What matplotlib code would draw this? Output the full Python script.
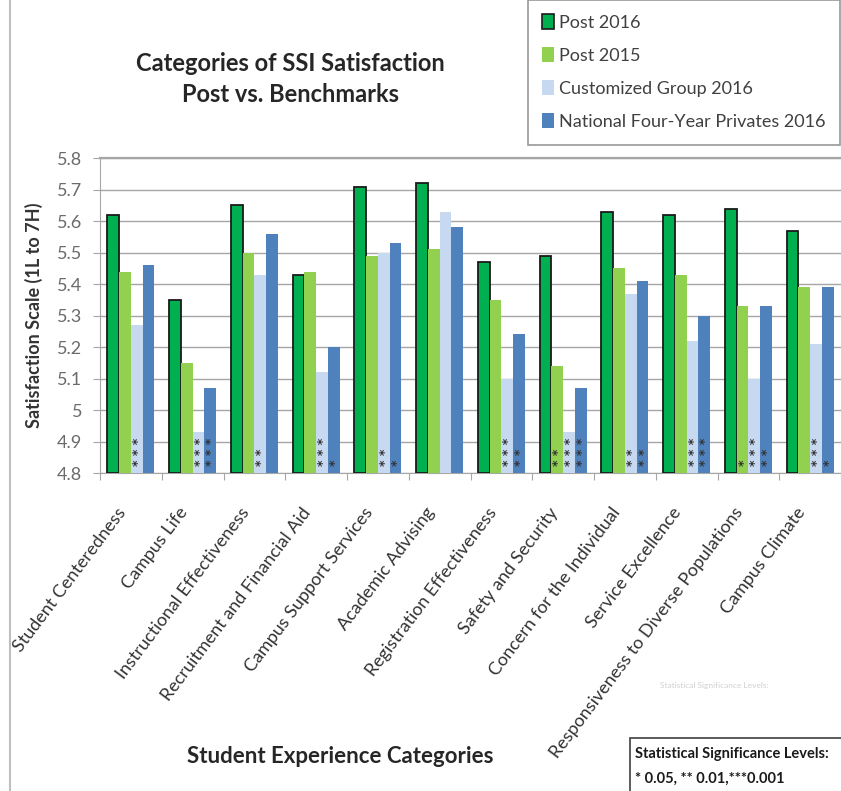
import matplotlib
matplotlib.use("Agg")
import matplotlib.pyplot as plt
import numpy as np
from matplotlib.patches import Rectangle, Patch
from matplotlib.lines import Line2D

categories = ["Student Centeredness", "Campus Life", "Instructional Effectiveness",
              "Recruitment and Financial Aid", "Campus Support Services", "Academic Advising",
              "Registration Effectiveness", "Safety and Security", "Concern for the Individual",
              "Service Excellence", "Responsiveness to Diverse Populations", "Campus Climate"]
post2016 = [5.62, 5.35, 5.65, 5.43, 5.71, 5.72, 5.47, 5.49, 5.63, 5.62, 5.64, 5.57]
post2015 = [5.44, 5.15, 5.50, 5.44, 5.49, 5.51, 5.35, 5.14, 5.45, 5.43, 5.33, 5.39]
custom2016 = [5.27, 4.93, 5.43, 5.12, 5.50, 5.63, 5.10, 4.93, 5.37, 5.22, 5.10, 5.21]
national2016 = [5.46, 5.07, 5.56, 5.20, 5.53, 5.58, 5.24, 5.07, 5.41, 5.30, 5.33, 5.39]
post2015_stars = [0, 0, 0, 0, 0, 0, 0, 2, 0, 0, 1, 0]
custom_stars = [3, 3, 2, 3, 2, 0, 3, 3, 2, 3, 3, 3]
national_stars = [0, 3, 0, 1, 1, 0, 2, 3, 2, 3, 2, 1]
series_names = ["Post 2016", "Post 2015", "Customized Group 2016", "National Four-Year Privates 2016"]
yticks = [4.8, 4.9, 5.0, 5.1, 5.2, 5.3, 5.4, 5.5, 5.6, 5.7, 5.8]
ytick_labels = ["4.8", "4.9", "5", "5.1", "5.2", "5.3", "5.4", "5.5", "5.6", "5.7", "5.8"]

plt.rcParams['font.family'] = ['Lato', 'DejaVu Sans']

colors = ["#00B050", "#92D050", "#C6D9F1", "#4F81BD"]
fig = plt.figure(figsize=(8.41, 7.91), dpi=100)
ax = fig.add_axes([0.119, 0.402, 0.881, 0.398])

x = np.arange(len(categories))
w = 0.19
offsets = [-1.5 * w, -0.5 * w, 0.5 * w, 1.5 * w]
data = [post2016, post2015, custom2016, national2016]
for i, (vals, c) in enumerate(zip(data, colors)):
    if i == 0:
        ax.bar(x + offsets[i], np.array(vals) - 4.8, w, bottom=4.8, color=c,
               edgecolor="#1a1a1a", linewidth=1.3, zorder=3)
    else:
        ax.bar(x + offsets[i], np.array(vals) - 4.8, w, bottom=4.8, color=c,
               linewidth=0, zorder=3)

# significance asterisks (one vertical string per bar)
for stars, off in [(post2015_stars, offsets[1]), (custom_stars, offsets[2]), (national_stars, offsets[3])]:
    for gi, n in enumerate(stars):
        if n > 0:
            ax.text(x[gi] + off + 0.025, 4.822, " ".join(["*"] * n), ha="center", va="bottom",
                    fontsize=9, color="#333333", fontweight="bold", rotation=90,
                    family="DejaVu Sans", zorder=4)

ax.set_xlim(-0.5, len(categories) - 0.5)
ax.set_ylim(4.8, 5.8)
ax.set_yticks(yticks)
ax.set_yticklabels(ytick_labels, fontsize=13, color="#6b6b6b")
ax.yaxis.grid(True, color="#A6A6A6", linewidth=1.0, zorder=0)
ax.set_axisbelow(True)
ax.set_xticks(np.arange(-0.5, len(categories) - 0.5 + 0.01, 1.0))
ax.set_xticklabels([])
ax.tick_params(axis="x", length=5, color="#A6A6A6", direction="out")
ax.tick_params(axis="y", length=5, color="#A6A6A6", direction="out", pad=8)
ax.spines["right"].set_visible(False)
ax.spines["top"].set_color("#A6A6A6")
ax.spines["top"].set_linewidth(1.6)
ax.spines["left"].set_color("#A6A6A6")
ax.spines["bottom"].set_color("#A6A6A6")

for gi, cat in enumerate(categories):
    ax.text(x[gi] - 0.03, 4.70, cat, rotation=53, ha="right", va="top",
            fontsize=13, color="#333333")

ax.set_ylabel("Satisfaction Scale (1L to 7H)", fontsize=13, fontweight="bold",
              color="#333333", labelpad=10)

fig.text(0.345, 0.9, "Categories of SSI Satisfaction\nPost vs. Benchmarks", ha="center",
         va="center", fontsize=17, fontweight="bold", color="#262626", linespacing=1.45)
fig.text(0.404, 0.043, "Student Experience Categories", ha="center", va="center",
         fontsize=16, fontweight="bold", color="#262626")

handles = [Patch(facecolor=colors[0], edgecolor="#1a1a1a", linewidth=1.2),
           Patch(facecolor=colors[1], edgecolor="none"),
           Patch(facecolor=colors[2], edgecolor="none"),
           Patch(facecolor=colors[3], edgecolor="none")]
leg = fig.legend(handles, series_names, loc="upper right", bbox_to_anchor=(0.999, 1.0),
                 fontsize=13, frameon=True, fancybox=False, edgecolor="#7f7f7f",
                 handlelength=0.65, handleheight=0.9, handletextpad=0.3, labelspacing=0.9,
                 borderpad=0.8, borderaxespad=0)
leg.get_frame().set_linewidth(1.2)
for t in leg.get_texts():
    t.set_color("#404040")

# outer border line at left
fig.add_artist(Line2D([0.012, 0.012], [0.0, 1.0], color="#BFBFBF", linewidth=1.5,
                      transform=fig.transFigure))

# faint ghost of the significance note
fig.text(0.785, 0.134, "Statistical Significance Levels:", ha="left", va="center",
         fontsize=6, color="#d0d0d0")

# significance box
fig.add_artist(Rectangle((0.749, -0.01), 0.26, 0.077, transform=fig.transFigure,
                         facecolor="white", edgecolor="#404040", linewidth=1.2))
fig.text(0.755, 0.047, "Statistical Significance Levels:", ha="left", va="center",
         fontsize=10.5, fontweight="bold", color="#1a1a1a")
fig.text(0.755, 0.016, "* 0.05, ** 0.01,***0.001", ha="left", va="center",
         fontsize=10.5, fontweight="bold", color="#1a1a1a")

fig.savefig("out.png", dpi=100)
